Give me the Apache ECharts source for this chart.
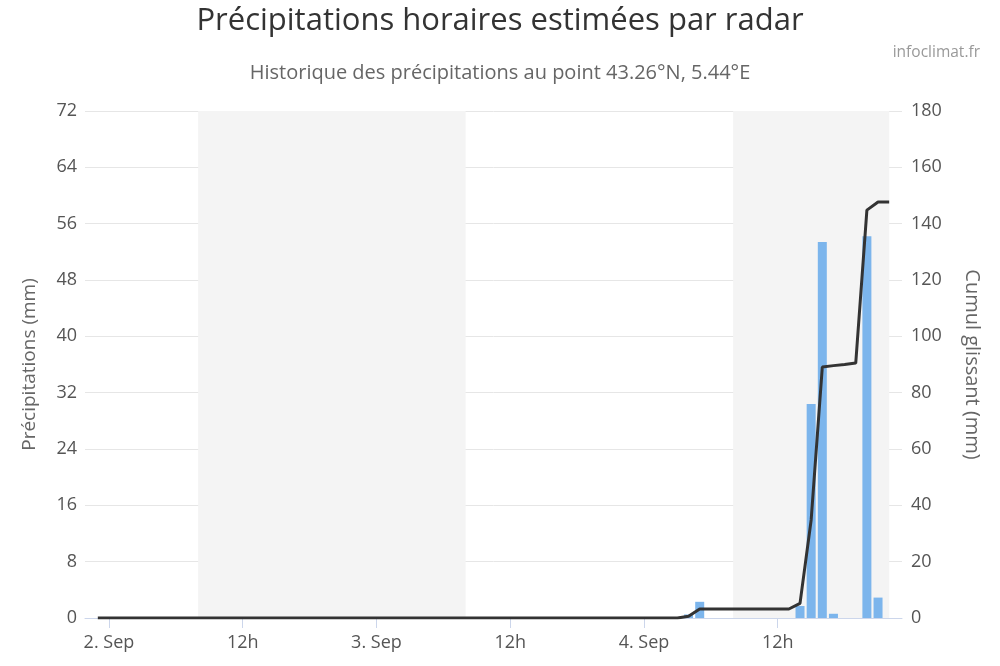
<!DOCTYPE html>
<html><head><meta charset="utf-8">
<script src="https://cdn.jsdelivr.net/npm/echarts@6/dist/echarts.min.js"></script>
<style>html,body{margin:0;padding:0;background:#fff}#c{width:1000px;height:666px}</style>
</head><body><div id="c"></div>
<script>
// Hours relative to 2 Sep 00:00; series runs hourly from 1 Sep 23:00 (-1) to 4 Sep 22:00 (70)
var firstHour = -1;
// Hourly precipitation (mm), 72 hours
var precip = [
  0,0,0,0,0,0,0,0,0,0,0,0,
  0,0,0,0,0,0,0,0,0,0,0,0,
  0,0,0,0,0,0,0,0,0,0,0,0,
  0,0,0,0,0,0,0,0,0,0,0,0,
  0,0,0,0,0,0.5,2.3,0,0,0,0,0,
  0,0,0,1.7,30.4,53.4,0.6,0,0,54.2,2.9,0
];
// Rolling cumulative (mm)
var cumul = [
  0,0,0,0,0,0,0,0,0,0,0,0,
  0,0,0,0,0,0,0,0,0,0,0,0,
  0,0,0,0,0,0,0,0,0,0,0,0,
  0,0,0,0,0,0,0,0,0,0,0,0,
  0,0,0,0,0,0.6,3.2,3.2,3.2,3.2,3.2,3.2,
  3.2,3.2,3.2,5.2,34.8,89.1,89.6,90.0,90.5,144.8,147.7,147.7
];
var hours = precip.map(function (_, i) { return firstHour + i; });

var tickHours = [0, 12, 24, 36, 48, 60];
var tickLabels = ['2. Sep', '12h', '3. Sep', '12h', '4. Sep', '12h'];
var bands = [[8, 32], [56, 70]];

var font = '"Open Sans", "DejaVu Sans", sans-serif';
var chart = echarts.init(document.getElementById('c'), null, {renderer: 'canvas'});
chart.setOption({
  animation: false,
  backgroundColor: '#fff',
  textStyle: {fontFamily: font},
  title: [
    {text: 'Précipitations horaires estimées par radar', left: 'center', top: 1,
     textStyle: {fontFamily: font, fontSize: 31, fontWeight: 'normal', color: '#333'}},
    {text: 'Historique des précipitations au point 43.26°N, 5.44°E', left: 'center', top: 58,
     textStyle: {fontFamily: font, fontSize: 20, fontWeight: 'normal', color: '#666'}},
    {text: 'infoclimat.fr', right: 15, top: 40,
     textStyle: {fontFamily: font, fontSize: 15.5, fontWeight: 'normal', color: '#999'}}
  ],
  grid: {left: 85, right: 98, top: 111, bottom: 48},
  xAxis: {
    type: 'value', min: -2.15, max: 71.15,
    axisLine: {show: true, onZero: false, lineStyle: {color: '#ccd6eb', width: 1}},
    axisTick: {show: true, customValues: tickHours, length: 10, lineStyle: {color: '#ccd6eb'}},
    axisLabel: {customValues: tickHours, color: '#555', fontSize: 18, fontFamily: font, margin: 16,
      formatter: function (v) { var i = tickHours.indexOf(v); return i >= 0 ? tickLabels[i] : ''; }},
    splitLine: {show: false}
  },
  yAxis: [
    {type: 'value', min: 0, max: 72, interval: 8,
     name: 'Précipitations (mm)', nameLocation: 'middle', nameGap: 46,
     nameTextStyle: {color: '#666', fontSize: 19, fontFamily: font},
     axisLine: {show: false}, axisTick: {show: false},
     axisLabel: {color: '#555', fontSize: 18, fontFamily: font, margin: 8},
     splitLine: {lineStyle: {color: '#e6e6e6'}}},
    {type: 'value', min: 0, max: 180, interval: 20,
     name: 'Cumul glissant (mm)', nameLocation: 'middle', nameGap: 60, nameRotate: -90,
     nameTextStyle: {color: '#666', fontSize: 20, fontFamily: font},
     axisLine: {show: false}, axisTick: {show: false},
     axisLabel: {color: '#555', fontSize: 18, fontFamily: font, margin: 9},
     splitLine: {show: false}}
  ],
  series: [
    {type: 'bar', yAxisIndex: 0, barWidth: 9,
     itemStyle: {color: '#7cb5ec'},
     data: hours.map(function (h, i) { return [h, precip[i]]; }),
     markArea: {silent: true, itemStyle: {color: '#f4f4f4'},
       data: bands.map(function (b) { return [{xAxis: b[0]}, {xAxis: b[1]}]; })},
     z: 2},
    {type: 'line', yAxisIndex: 1, symbol: 'none',
     lineStyle: {color: '#333', width: 3},
     data: hours.map(function (h, i) { return [h, cumul[i]]; }),
     z: 3}
  ]
});
</script></body></html>
